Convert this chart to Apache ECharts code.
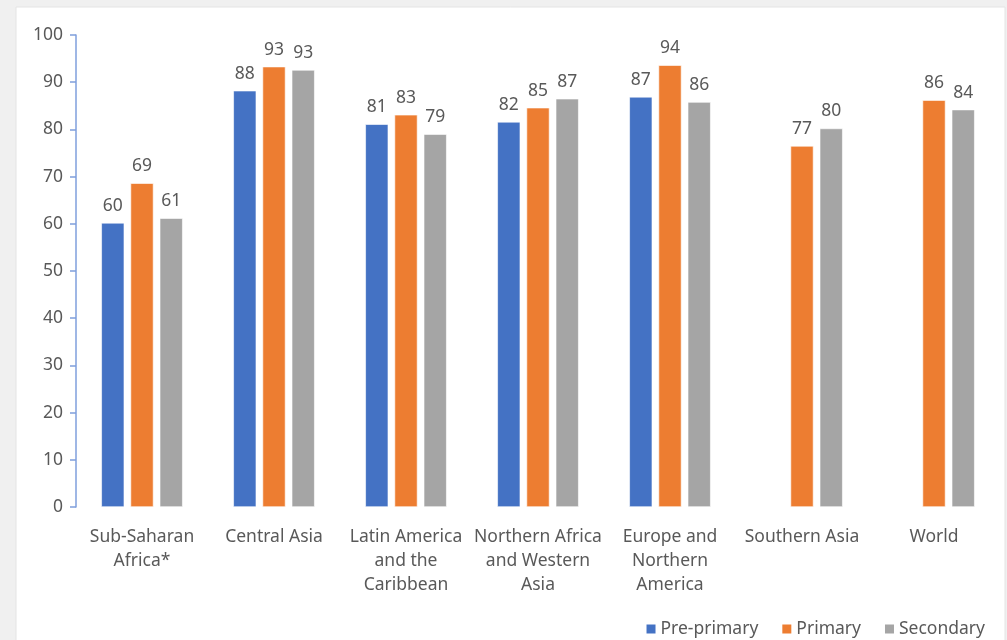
<!DOCTYPE html>
<html>
<head>
<meta charset="utf-8">
<script src="https://cdn.jsdelivr.net/npm/echarts@6/dist/echarts.min.js"></script>
<style>
  html, body { margin: 0; padding: 0; background: #f0f0f0; }
  #chart { width: 1007px; height: 640px; }
</style>
</head>
<body>
<div id="chart"></div>
<script>
// Regions shown along the x axis
const regions = [
  'Sub-Saharan\nAfrica*',
  'Central Asia',
  'Latin America\nand the\nCaribbean',
  'Northern Africa\nand Western\nAsia',
  'Europe and\nNorthern\nAmerica',
  'Southern Asia',
  'World'
];

// Values per education level (null = no data)
const prePrimary = [60.2, 88.2, 81.1, 81.6, 86.9, null, null];
const primary    = [68.6, 93.3, 83.1, 84.6, 93.6, 76.5, 86.2];
const secondary  = [61.2, 92.6, 79.0, 86.5, 85.8, 80.2, 84.2];

const seriesNames = ['Pre-primary', 'Primary', 'Secondary'];
const seriesColors = ['#4472c4', '#ed7d31', '#a5a5a5'];

const yTicks = { min: 0, max: 100, interval: 10 };

const textColor = '#595959';
const fontFamily = '"Noto Sans", "Open Sans", sans-serif';
const fontSize = 17.5;

const chart = echarts.init(document.getElementById('chart'));

function barSeries(name, data, color) {
  return {
    name: name,
    type: 'bar',
    data: data,
    barWidth: 23,
    barGap: '27%',
    itemStyle: { color: color, borderColor: '#ffffff', borderWidth: 0.6 },
    label: {
      show: true,
      position: 'top',
      distance: 8,
      color: textColor,
      fontSize: fontSize,
      fontFamily: fontFamily,
      formatter: p => (p.value == null ? '' : String(Math.round(p.value)))
    }
  };
}

chart.setOption({
  backgroundColor: '#f0f0f0',
  animation: false,
  textStyle: { fontFamily: fontFamily },
  graphic: [{
    type: 'rect',
    z: -10,
    silent: true,
    shape: { x: 16, y: 7, width: 989, height: 640 },
    style: { fill: '#ffffff', stroke: '#e4e4e4', lineWidth: 1 }
  }],
  grid: { left: 76, right: 7, top: 35, bottom: 133, containLabel: false },
  legend: {
    data: seriesNames,
    right: 17,
    top: 615,
    itemWidth: 11,
    itemHeight: 11,
    itemGap: 22,
    icon: 'rect',
    textStyle: { color: textColor, fontSize: fontSize, fontFamily: fontFamily, padding: [0, 0, 0, -1] }
  },
  xAxis: {
    type: 'category',
    data: regions,
    axisLine: { show: false },
    axisTick: { show: false },
    axisLabel: {
      interval: 0,
      margin: 18,
      color: textColor,
      fontSize: fontSize,
      lineHeight: 24,
      fontFamily: fontFamily
    }
  },
  yAxis: {
    type: 'value',
    min: yTicks.min,
    max: yTicks.max,
    interval: yTicks.interval,
    splitLine: { show: false },
    axisLine: { show: true, lineStyle: { color: '#7f9fdc', width: 1.5 } },
    axisTick: { show: true, length: 6, lineStyle: { color: '#7f9fdc', width: 1.5 } },
    axisLabel: { margin: 13, color: textColor, fontSize: fontSize, fontFamily: fontFamily }
  },
  series: [
    barSeries(seriesNames[0], prePrimary, seriesColors[0]),
    barSeries(seriesNames[1], primary, seriesColors[1]),
    barSeries(seriesNames[2], secondary, seriesColors[2])
  ]
});
</script>
</body>
</html>
